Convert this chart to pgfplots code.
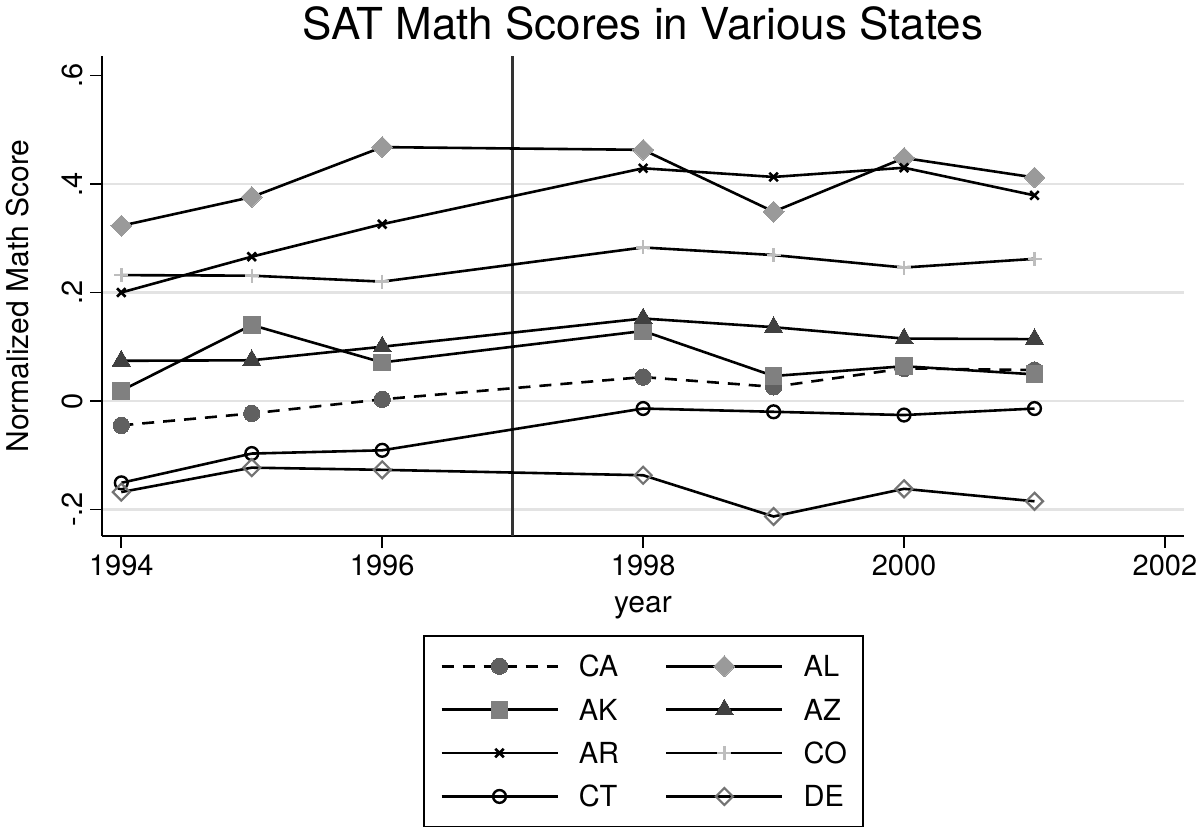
\documentclass[border=0pt]{standalone}
\usepackage{fontspec}
\setmainfont{TeX Gyre Heros}
\usepackage{pgfplots}
\pgfplotsset{compat=1.18}

\definecolor{caC}{HTML}{606060}
\definecolor{alC}{HTML}{9A9A9A}
\definecolor{akC}{HTML}{808080}
\definecolor{azC}{HTML}{404040}
\definecolor{coC}{HTML}{BDBDBD}
\definecolor{deC}{HTML}{737373}
\definecolor{gridC}{HTML}{E3E3E3}

\begin{document}
\begin{tikzpicture}
\begin{axis}[
    name=ax,
    scale only axis,
    width=541pt, height=240pt,
    xmin=1993.852, xmax=2002.146,
    ymin=-0.249, ymax=0.636,
    axis lines*=left,
    axis line style={line width=0.9pt},
    tick align=outside,
    major tick length=6pt,
    tick style={line width=0.9pt, black},
    xtick={1994,1996,1998,2000,2002},
    xticklabels={1994,1996,1998,2000,2002},
    ytick={-0.2,0,0.2,0.4},
    yticklabels={-.2,0,.2,.4},
    extra y ticks={0.6},
    extra y tick labels={.6},
    extra y tick style={grid=none},
    ymajorgrids,
    major grid style={gridC, line width=1.3pt},
    tick label style={font=\fontsize{14.5}{17}\selectfont},
    yticklabel style={rotate=90, anchor=south},
    title={SAT Math Scores in Various States},
    % the default title style already shifts it up by 6pt
    title style={font=\fontsize{22}{26}\selectfont, at={(0.5,1.034)}, anchor=base, yshift=-6pt},
    xlabel={year},
    ylabel={Normalized Math Score},
    label style={font=\fontsize{15}{18}\selectfont},
    xlabel style={at={(axis description cs:0.5,-0.15)}, anchor=center},
    ylabel style={at={(axis description cs:-0.0776,0.5)}, anchor=center},
    legend columns=2,
    legend cell align=left,
    legend style={
        at={(0.5005,-0.407)}, anchor=center,
        draw=black, line width=0.8pt,
        font=\fontsize{14.5}{17}\selectfont,
        inner xsep=8pt, inner ysep=9pt,
        column sep=10pt, row sep=9.7pt,
        nodes={inner sep=0pt, text height=10.4pt, text depth=0pt},
        /tikz/every even column/.append style={column sep=23pt},
    },
    legend image code/.code={
        \path[draw=none, fill=none] (0pt,-6pt) rectangle (58pt,6pt);
        \draw[mark repeat=2, mark phase=2, #1, line width=1.3pt] plot coordinates {(0pt,0pt) (29pt,0pt) (58pt,0pt)};
    },
    every axis plot/.append style={line width=1.3pt, black},
]

% reform year
\addplot[forget plot, azC!80!black, line width=1.2pt, mark=none] coordinates {(1997,-0.249) (1997,0.636)};

% CA
\addplot[dash pattern=on 6pt off 4.5pt, mark=*, mark size=4.1pt,
    mark options={solid, fill=caC, draw=caC, line width=0pt}] coordinates {
    (1994,-0.045) (1995,-0.023) (1996,0.003) (1998,0.044) (1999,0.026) (2000,0.060) (2001,0.057)
};
\addlegendentry{CA}

% AL
\addplot[mark=square*, mark size=3.7pt,
    mark options={solid, rotate=45, fill=alC, draw=alC, line width=0pt}] coordinates {
    (1994,0.323) (1995,0.376) (1996,0.468) (1998,0.463) (1999,0.349) (2000,0.448) (2001,0.412)
};
\addlegendentry{AL}

% AK
\addplot[mark=square*, mark size=4.2pt,
    mark options={solid, fill=akC, draw=akC, line width=0pt}] coordinates {
    (1994,0.019) (1995,0.140) (1996,0.071) (1998,0.129) (1999,0.046) (2000,0.064) (2001,0.049)
};
\addlegendentry{AK}

% AZ
\addplot[mark=triangle*, mark size=5.2pt,
    mark options={solid, fill=azC, draw=azC, line width=0pt}] coordinates {
    (1994,0.074) (1995,0.075) (1996,0.100) (1998,0.152) (1999,0.136) (2000,0.115) (2001,0.114)
};
\addlegendentry{AZ}

% AR
\addplot[mark=x, mark size=3pt,
    mark options={solid, draw=black, line width=1.3pt}] coordinates {
    (1994,0.200) (1995,0.266) (1996,0.326) (1998,0.429) (1999,0.413) (2000,0.430) (2001,0.379)
};
\addlegendentry{AR}

% CO
\addplot[mark=+, mark size=3.5pt,
    mark options={solid, draw=coC, line width=1.2pt}] coordinates {
    (1994,0.232) (1995,0.231) (1996,0.220) (1998,0.283) (1999,0.269) (2000,0.246) (2001,0.262)
};
\addlegendentry{CO}

% CT
\addplot[mark=o, mark size=3.2pt,
    mark options={solid, draw=black, line width=1.2pt}] coordinates {
    (1994,-0.151) (1995,-0.097) (1996,-0.091) (1998,-0.014) (1999,-0.020) (2000,-0.026) (2001,-0.014)
};
\addlegendentry{CT}

% DE
\addplot[mark=square, mark size=3pt,
    mark options={solid, rotate=45, draw=deC, line width=1.1pt}] coordinates {
    (1994,-0.168) (1995,-0.123) (1996,-0.127) (1998,-0.137) (1999,-0.213) (2000,-0.162) (2001,-0.185)
};
\addlegendentry{DE}

\end{axis}
\pgfresetboundingbox
\path ([shift={(-51pt,-146pt)}]ax.south west) rectangle ([shift={(8pt,28pt)}]ax.north east);
\end{tikzpicture}
\end{document}
